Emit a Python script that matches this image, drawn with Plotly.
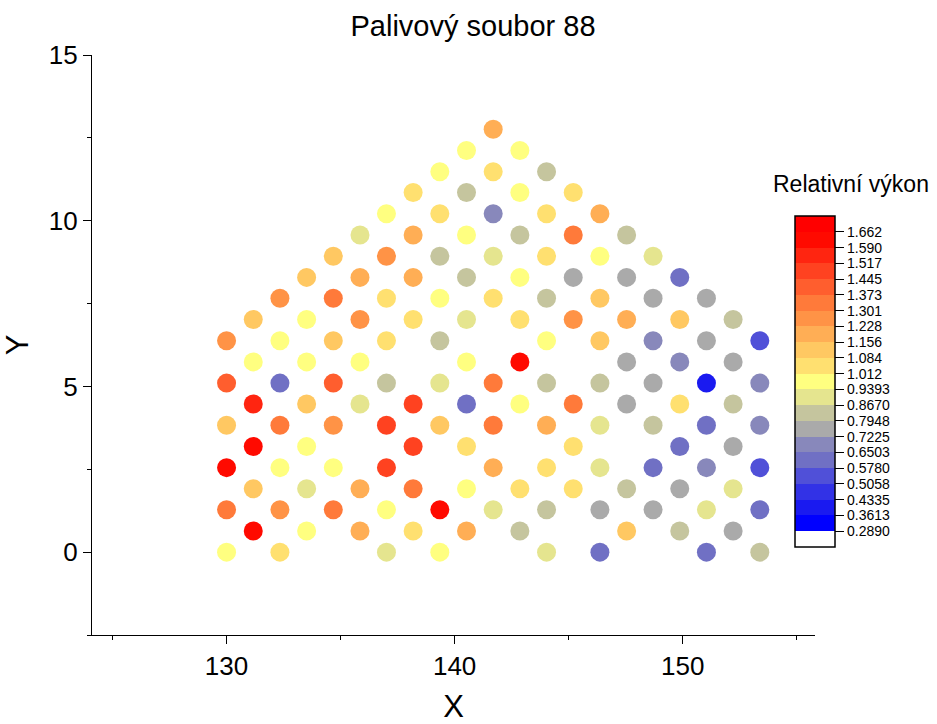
import plotly.graph_objects as go

# ---------------- data ----------------
col_x = [130.00, 131.17, 132.34, 133.51, 134.68, 135.85, 137.01, 138.18, 139.35,
         140.52, 141.69, 142.86, 144.03, 145.20, 146.37, 147.54, 148.70, 149.87,
         151.04, 152.21, 153.38]

col_y = [
    [0.00, 1.28, 2.55, 3.83, 5.10, 6.38],
    [0.64, 1.91, 3.19, 4.47, 5.74, 7.02],
    [0.00, 1.28, 2.55, 3.83, 5.10, 6.38, 7.66],
    [0.64, 1.91, 3.19, 4.47, 5.74, 7.02, 8.29],
    [1.28, 2.55, 3.83, 5.10, 6.38, 7.66, 8.93],
    [0.64, 1.91, 4.47, 5.74, 7.02, 8.29, 9.57],
    [0.00, 1.28, 2.55, 3.83, 5.10, 6.38, 7.66, 8.93, 10.21],
    [0.64, 1.91, 3.19, 4.47, 7.02, 8.29, 9.57, 10.85],
    [0.00, 1.28, 3.83, 5.10, 6.38, 7.66, 8.93, 10.21, 11.48],
    [0.64, 1.91, 3.19, 4.47, 5.74, 7.02, 8.29, 9.57, 10.85, 12.12],
    [1.28, 2.55, 3.83, 5.10, 7.66, 8.93, 10.21, 11.48, 12.76],
    [0.64, 1.91, 4.47, 5.74, 7.02, 8.29, 9.57, 10.85, 12.12],
    [0.00, 1.28, 2.55, 3.83, 5.10, 6.38, 7.66, 8.93, 10.21, 11.48],
    [1.91, 3.19, 4.47, 7.02, 8.29, 9.57, 10.85],
    [0.00, 1.28, 2.55, 3.83, 5.10, 6.38, 7.66, 8.93, 10.21],
    [0.64, 1.91, 4.47, 5.74, 7.02, 8.29, 9.57],
    [1.28, 2.55, 3.83, 5.10, 6.38, 7.66, 8.93],
    [0.64, 1.91, 3.19, 4.47, 5.74, 7.02, 8.29],
    [0.00, 1.28, 2.55, 3.83, 5.10, 6.38, 7.66],
    [0.64, 1.91, 3.19, 4.47, 5.74, 7.02],
    [0.00, 1.28, 2.55, 3.83, 5.10, 6.38],
]

col_v = [
    [0.98, 1.34, 1.63, 1.12, 1.41, 1.26],
    [1.63, 1.12, 1.63, 1.55, 0.98, 1.12],
    [1.05, 1.26, 0.98, 1.34, 0.61, 0.98, 1.26],
    [0.98, 0.90, 0.98, 1.12, 0.98, 0.98, 1.12],
    [1.34, 0.98, 1.26, 1.41, 1.12, 1.34, 1.12],
    [1.19, 1.19, 0.90, 0.98, 1.26, 1.19, 0.90],
    [0.90, 0.98, 1.48, 1.48, 0.83, 1.05, 1.05, 1.26, 0.98],
    [1.05, 1.34, 1.48, 1.48, 1.05, 1.19, 1.19, 1.05],
    [0.98, 1.63, 1.12, 0.90, 0.83, 0.98, 0.83, 1.05, 0.98],
    [1.19, 0.98, 1.05, 0.61, 0.98, 0.90, 0.83, 0.98, 0.83, 0.98],
    [0.90, 1.19, 1.34, 1.34, 1.05, 0.90, 0.69, 1.05, 1.19],
    [0.83, 1.05, 0.98, 1.63, 1.05, 0.98, 0.83, 0.98, 0.98],
    [0.90, 0.83, 1.05, 1.19, 0.83, 0.98, 0.83, 1.05, 1.05, 0.83],
    [1.05, 1.05, 1.34, 1.26, 0.76, 1.34, 1.05],
    [0.61, 0.76, 0.90, 0.90, 0.83, 1.12, 1.12, 0.98, 1.19],
    [1.12, 0.83, 0.76, 0.76, 1.19, 0.76, 0.83],
    [0.76, 0.61, 0.83, 0.76, 0.69, 0.76, 0.90],
    [0.83, 0.76, 0.61, 1.05, 0.69, 1.12, 0.61],
    [0.61, 0.90, 0.69, 0.61, 0.40, 0.76, 0.76],
    [0.76, 0.90, 0.76, 0.83, 0.76, 0.83],
    [0.83, 0.61, 0.54, 0.69, 0.69, 0.54],
]

level_ticks = [0.2890, 0.3613, 0.4335, 0.5058, 0.5780, 0.6503, 0.7225, 0.7948,
               0.8670, 0.9393, 1.012, 1.084, 1.156, 1.228, 1.301, 1.373, 1.445,
               1.517, 1.590, 1.662]
level_text = ["0.2890", "0.3613", "0.4335", "0.5058", "0.5780", "0.6503", "0.7225",
              "0.7948", "0.8670", "0.9393", "1.012", "1.084", "1.156", "1.228",
              "1.301", "1.373", "1.445", "1.517", "1.590", "1.662"]

# band colours, bottom (below lowest level) to top (above highest level)
band_colors = ["#FFFFFF", "#0000FF", "#1A1AF0", "#3232E6", "#5050D8", "#7070C4",
               "#8888BB", "#AAAAAA", "#C5C59E", "#E5E58F", "#FFFF80", "#FFE070",
               "#FFC862", "#FFAE55", "#FF9346", "#FF7A3A", "#FF5E2E", "#FF4220",
               "#FF2510", "#FF0A00", "#FF0000"]

# ---------------- build ----------------
xs, ys, vs = [], [], []
for cx, cy, cv in zip(col_x, col_y, col_v):
    for yy, vv in zip(cy, cv):
        xs.append(cx)
        ys.append(yy)
        vs.append(vv)

step = level_ticks[1] - level_ticks[0]
cmin = level_ticks[0] - step
nb = len(band_colors)
cmax = cmin + nb * step
colorscale = []
for i, c in enumerate(band_colors):
    colorscale.append([i / nb, c])
    colorscale.append([(i + 1) / nb, c])

FONT = "Liberation Sans, Arial, sans-serif"

# plot-area geometry (pixels) used to place the colour bar in paper units
L, R, T, B = 92, 815, 55, 635
PW, PH = R - L, B - T

fig = go.Figure()
fig.add_trace(go.Scatter(
    x=xs, y=ys, mode="markers",
    marker=dict(
        size=19, color=vs, colorscale=colorscale, cmin=cmin, cmax=cmax,
        line=dict(width=0),
        showscale=True,
        colorbar=dict(
            thickness=40, len=331 / PH, lenmode="fraction",
            x=(795 - L) / PW, xanchor="left",
            y=(B - 381.5) / PH, yanchor="middle",
            outlinecolor="black", outlinewidth=1.5,
            tickvals=level_ticks, ticktext=level_text,
            ticks="outside", ticklen=9, tickcolor="black", tickwidth=1,
            tickfont=dict(family=FONT, size=14, color="black"),
            xpad=0, ypad=0,
        ),
    ),
    showlegend=False,
    hoverinfo="x+y+text", text=[f"{v:.3f}" for v in vs],
))

axis_common = dict(
    showline=True, linecolor="black", linewidth=1.3,
    ticks="outside", ticklen=8, tickwidth=1.3, tickcolor="black",
    showgrid=False, zeroline=False, mirror=False,
    tickfont=dict(family=FONT, size=26, color="black"),
)

fig.update_layout(
    width=937, height=724,
    margin=dict(l=L, r=937 - R, t=T, b=724 - B, autoexpand=False),
    paper_bgcolor="white", plot_bgcolor="white",
    title=dict(text="Palivový soubor 88", x=473 / 937, xanchor="center",
               y=1 - 26 / 724, yanchor="middle",
               font=dict(family=FONT, size=29, color="black")),
    xaxis=dict(range=[124.1, 155.8], tickvals=[130, 140, 150],
               minor=dict(ticks="outside", ticklen=4, tickcolor="black",
                          tickvals=[125, 135, 145, 155], showgrid=False),
               title=dict(text="X", font=dict(family=FONT, size=31, color="black"),
                          standoff=14),
               **axis_common),
    yaxis=dict(range=[-2.5, 15], tickvals=[0, 5, 10, 15],
               minor=dict(ticks="outside", ticklen=4, tickcolor="black",
                          tickvals=[-2.5, 2.5, 7.5, 12.5], showgrid=False),
               title=dict(text="Y", font=dict(family=FONT, size=31, color="black"),
                          standoff=10),
               **axis_common),
    annotations=[dict(text="Relativní výkon", xref="paper", yref="paper",
                      x=(851 - L) / PW, y=(B - 184) / PH,
                      xanchor="center", yanchor="middle", showarrow=False,
                      font=dict(family=FONT, size=23, color="black"))],
)

fig.write_html("out.html")
